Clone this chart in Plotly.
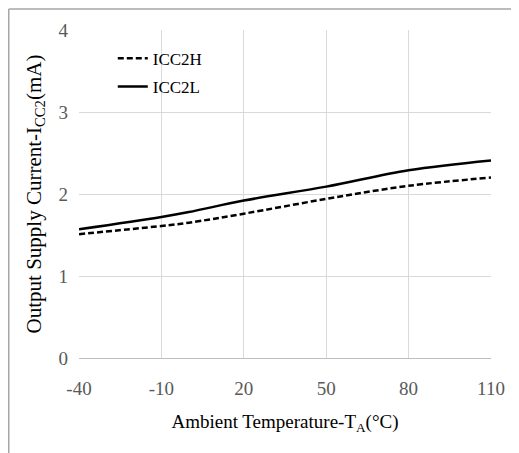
import plotly.graph_objects as go

# ambient temperature (°C) and supply current (mA)
temp = [-40, -10, 0, 20, 50, 80, 110]
icc2h = [1.51, 1.61, 1.65, 1.76, 1.94, 2.10, 2.20]
icc2l = [1.57, 1.72, 1.78, 1.92, 2.09, 2.29, 2.41]
xticks = [-40, -10, 20, 50, 80, 110]
xlabels = ["-40", "-10", "20", "50", "80", "110"]
yticks = [0, 1, 2, 3, 4]

fnt = "Liberation Serif"

fig = go.Figure()
fig.add_trace(go.Scatter(x=temp, y=icc2h, name="ICC2H", mode="lines",
                         line=dict(color="black", width=2.5, dash="6px,3px", shape="spline"),
                         legendgroup="h"))
fig.add_trace(go.Scatter(x=temp, y=icc2l, name="ICC2L", mode="lines",
                         line=dict(color="black", width=2.5, shape="spline"),
                         legendgroup="l"))

# outer frame of the chart: only the top and left edges show in the picture
frame = dict(color="#a6a6a6", width=1.5)
fig.add_shape(type="line", xref="paper", yref="paper",
              x0=-0.1705, x1=1.1, y0=1.064, y1=1.064, line=frame, layer="below")
fig.add_shape(type="line", xref="paper", yref="paper",
              x0=-0.1705, x1=-0.1705, y0=-0.4, y1=1.064, line=frame, layer="below")

# page body adds 8px offset, so the figure is kept 8px smaller (no scrollbars)
fig.update_layout(
    width=511, height=445,
    margin=dict(l=71, r=28, t=22, b=95, autoexpand=False),
    paper_bgcolor="white", plot_bgcolor="white",
    font=dict(family=fnt, color="black"),
    showlegend=True,
    legend=dict(x=0.082, y=0.967, xanchor="left", yanchor="top",
                font=dict(size=17, family=fnt, color="black"),
                bgcolor="rgba(0,0,0,0)", traceorder="grouped", tracegroupgap=3),
    xaxis=dict(range=[-40, 110], tickvals=xticks, ticktext=xlabels, showgrid=True,
               gridcolor="#d9d9d9", gridwidth=1, zeroline=False, showline=True,
               linecolor="#bfbfbf",
               tickfont=dict(size=19, color="#595959", family=fnt),
               ticklabelstandoff=13, automargin=False,
               title=dict(text="Ambient Temperature-T<sub>A</sub>(°C)",
                          font=dict(size=19, color="black", family=fnt), standoff=16)),
    yaxis=dict(range=[0, 4], tickvals=yticks, showgrid=True, gridcolor="#d9d9d9",
               gridwidth=1, zeroline=False, showline=False,
               tickfont=dict(size=19, color="#595959", family=fnt),
               ticklabelstandoff=10, automargin=False,
               title=dict(text="Output Supply Current-I<sub>CC2</sub>(mA)",
                          font=dict(size=21, color="black", family=fnt), standoff=11)),
)

fig.write_html("out.html")
